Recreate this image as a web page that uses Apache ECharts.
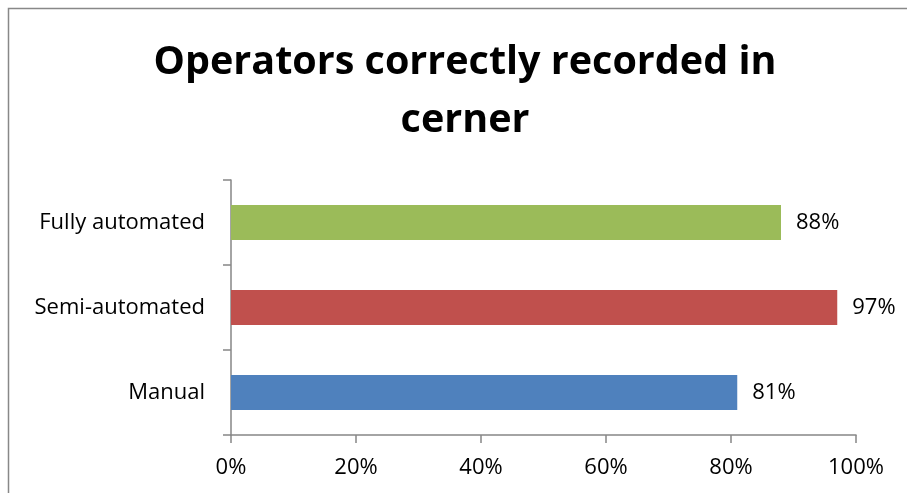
<!DOCTYPE html>
<html>
<head>
<meta charset="utf-8">
<script src="https://cdn.jsdelivr.net/npm/echarts@6/dist/echarts.min.js"></script>
<style>
  html, body { margin: 0; padding: 0; background: #fff; }
  #chart { width: 907px; height: 493px; }
</style>
</head>
<body>
<div id="chart"></div>
<script>
// 数据
var categories = ['Manual', 'Semi-automated', 'Fully automated'];
var values = [81, 97, 88];
var barColors = ['#4F81BD', '#C0504D', '#9BBB59'];
var xTicks = [0, 20, 40, 60, 80, 100];

(function () {
    var myChart = echarts.init(document.getElementById('chart'));
    var font = '"Open Sans", "Noto Sans", sans-serif';
    var option = {
        backgroundColor: '#fff',
        animation: false,
        title: {
            text: 'Operators correctly recorded in\ncerner',
            left: 460,
            top: 29,
            textAlign: 'center',
            textStyle: {
                fontFamily: font,
                fontWeight: 'bold',
                fontSize: 39.5,
                lineHeight: 58,
                color: '#000'
            }
        },
        graphic: [{
            type: 'rect',
            shape: { x: 8.5, y: 8.5, width: 920, height: 520 },
            style: { fill: 'none', stroke: '#888', lineWidth: 1.5 },
            silent: true
        }],
        grid: {
            left: 231,
            top: 180,
            right: 51,
            bottom: 58
        },
        xAxis: {
            type: 'value',
            min: 0,
            max: 100,
            interval: 20,
            axisLine: { show: true, lineStyle: { color: '#868686', width: 1.5 } },
            axisTick: { show: true, length: 8, lineStyle: { color: '#868686', width: 1.5 } },
            splitLine: { show: false },
            axisLabel: {
                margin: 22,
                fontFamily: font,
                fontSize: 22,
                color: '#000',
                formatter: function (v) { return xTicks.indexOf(v) >= 0 ? v + '%' : ''; }
            }
        },
        yAxis: {
            type: 'category',
            data: categories,
            axisLine: { show: true, lineStyle: { color: '#868686', width: 1.5 } },
            axisTick: { show: true, length: 8, lineStyle: { color: '#868686', width: 1.5 } },
            axisLabel: {
                margin: 26,
                fontFamily: font,
                fontSize: 22,
                color: '#000'
            }
        },
        series: [{
            type: 'bar',
            barWidth: '41%',
            data: values.map(function (v, i) {
                return { value: v, itemStyle: { color: barColors[i] } };
            }),
            label: {
                show: true,
                position: 'right',
                distance: 15,
                fontFamily: font,
                fontSize: 22,
                color: '#000',
                formatter: '{c}%'
            }
        }]
    };
    myChart.setOption(option);
    window.addEventListener('resize', function () {
        myChart.resize();
    });
})();
</script>
</body>
</html>
